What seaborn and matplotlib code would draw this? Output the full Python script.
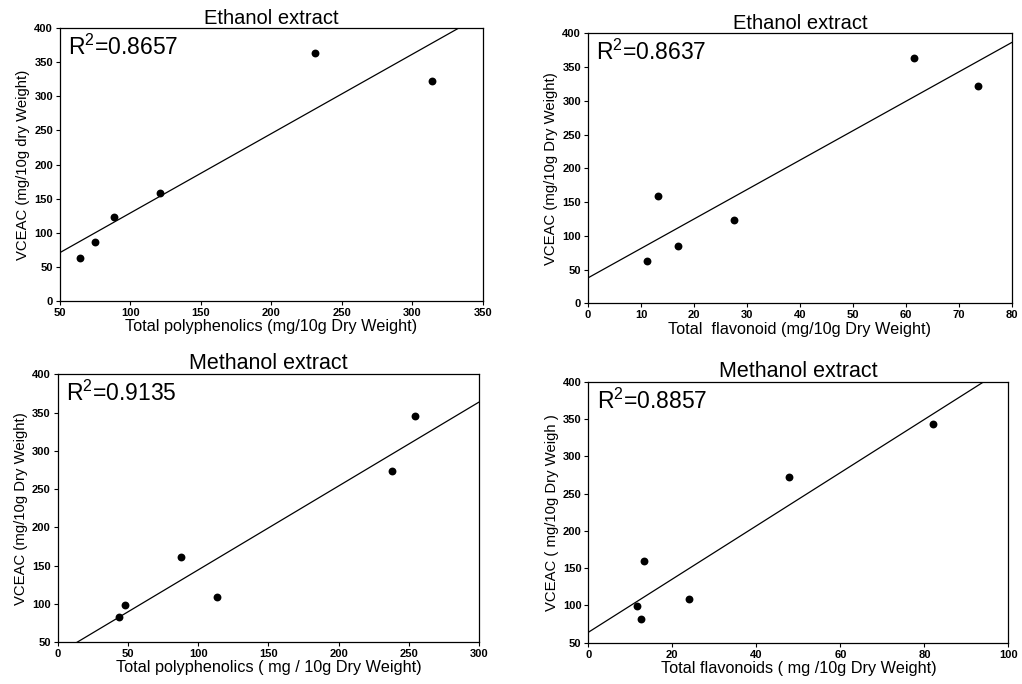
import numpy as np
import pandas as pd
import matplotlib
matplotlib.use("Agg")
import matplotlib.pyplot as plt
import seaborn as sns

# values
eth_poly_x = [64, 75, 88, 121, 231, 314]
eth_poly_y = [63, 86, 123, 158, 364, 322]
eth_flav_x = [11.2, 13.2, 16.9, 27.5, 61.5, 73.6]
eth_flav_y = [63, 159, 85, 123, 363, 322]
met_poly_x = [43.7, 48.2, 88, 113.7, 238, 254.7]
met_poly_y = [83, 99, 161, 109, 273, 345]
met_flav_x = [11.5, 12.5, 13.3, 24, 47.8, 82.1]
met_flav_y = [99, 82, 160, 109, 273, 344]

titles = ["Ethanol extract", "Ethanol extract", "Methanol extract", "Methanol extract"]
r2_labels = ["0.8657", "0.8637", "0.9135", "0.8857"]
xlabels = ["Total polyphenolics (mg/10g Dry Weight)",
           "Total  flavonoid (mg/10g Dry Weight)",
           "Total polyphenolics ( mg / 10g Dry Weight)",
           "Total flavonoids ( mg /10g Dry Weight)"]
ylabels = ["VCEAC (mg/10g dry Weight)",
           "VCEAC (mg/10g Dry Weight)",
           "VCEAC (mg/10g Dry Weight)",
           "VCEAC ( mg/10g Dry Weigh )"]
xlims = [(50, 350), (0, 80), (0, 300), (0, 100)]
ylims = [(0, 400), (0, 400), (50, 400), (50, 400)]
xticks = [np.arange(50, 351, 50), np.arange(0, 81, 10), np.arange(0, 301, 50), np.arange(0, 101, 20)]
yticks = [np.arange(0, 401, 50), np.arange(0, 401, 50), np.arange(50, 401, 50), np.arange(50, 401, 50)]

sns.set_style("ticks")
plt.rcParams['font.family'] = ['Liberation Sans', 'DejaVu Sans']
plt.rcParams['mathtext.fontset'] = 'custom'
plt.rcParams['mathtext.rm'] = 'Liberation Sans'
for key in ['text.color', 'axes.labelcolor', 'xtick.color', 'ytick.color', 'axes.edgecolor']:
    plt.rcParams[key] = 'black'

fig = plt.figure(figsize=(10.22, 6.84), dpi=100)
positions = [[0.0587, 0.5599, 0.4139, 0.3990],
             [0.5753, 0.5566, 0.4149, 0.3947],
             [0.0565, 0.0614, 0.4122, 0.3914],
             [0.5757, 0.0604, 0.4110, 0.3811]]
title_sizes = [14.5, 14.5, 15.5, 15.5]

data = [(eth_poly_x, eth_poly_y), (eth_flav_x, eth_flav_y),
        (met_poly_x, met_poly_y), (met_flav_x, met_flav_y)]

for i in range(4):
    ax = fig.add_axes(positions[i])
    df = pd.DataFrame({"x": data[i][0], "y": data[i][1]})
    ax.set_xlim(*xlims[i])
    ax.set_ylim(*ylims[i])
    sns.regplot(x="x", y="y", data=df, ax=ax, ci=None, truncate=False,
                scatter_kws={'s': 32, 'color': 'black', 'alpha': 1, 'linewidths': 0},
                line_kws={'color': 'black', 'linewidth': 0.9})
    ax.set_xlim(*xlims[i])
    ax.set_ylim(*ylims[i])
    ax.set_xticks(xticks[i])
    ax.set_yticks(yticks[i])
    ax.tick_params(axis='both', labelsize=8, length=3, width=0.8, direction='out', pad=2)
    for lab in ax.get_xticklabels() + ax.get_yticklabels():
        lab.set_fontweight('bold')
    for sp in ax.spines.values():
        sp.set_visible(True)
        sp.set_color('black')
        sp.set_linewidth(0.9)
    ax.set_xlabel(xlabels[i], fontsize=11.7, labelpad=1)
    ax.set_ylabel(ylabels[i], fontsize=10.7, labelpad=3)
    ax.set_title(titles[i], fontsize=title_sizes[i], pad=2)
    ax.text(0.02, 0.975, "R$^{2}$=" + r2_labels[i], transform=ax.transAxes,
            fontsize=16.5, va='top', ha='left')

plt.savefig("out.png", dpi=100)
